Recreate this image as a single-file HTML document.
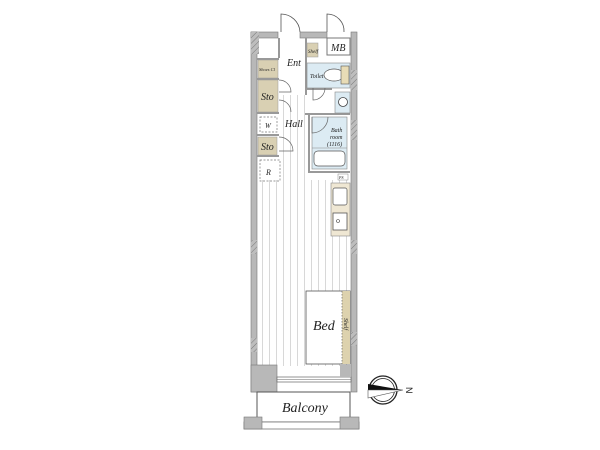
<!DOCTYPE html>
<html><head><meta charset="utf-8"><style>
html,body{margin:0;padding:0;background:#fff;width:600px;height:450px;overflow:hidden}
svg{display:block}
text{font-family:"Liberation Serif",serif;font-style:italic;fill:#222}
</style></head><body>
<svg width="600" height="450" viewBox="0 0 600 450" xmlns="http://www.w3.org/2000/svg">
<defs>
<pattern id="st" width="7" height="10" patternUnits="userSpaceOnUse"><rect width="7" height="10" fill="#fff"/><line x1="3.5" y1="0" x2="3.5" y2="10" stroke="#d8d8d8" stroke-width="1"/></pattern>
<pattern id="ht" width="4" height="4" patternUnits="userSpaceOnUse" patternTransform="rotate(45)"><rect width="4" height="4" fill="#bdbdbd"/><line x1="0" y1="0" x2="0" y2="4" stroke="#666" stroke-width="0.8"/></pattern>
</defs>
<!-- floor -->
<rect x="257" y="38" width="94" height="328" fill="#fff"/>
<rect x="258" y="180" width="92" height="186" fill="url(#st)"/>
<rect x="278" y="95" width="30" height="85" fill="url(#st)"/>
<!-- outer walls -->
<rect x="251" y="32" width="6" height="360" fill="#b8b8b8" stroke="#777" stroke-width="0.6"/>
<rect x="351" y="32" width="6" height="360" fill="#b8b8b8" stroke="#777" stroke-width="0.6"/>
<rect x="251" y="32" width="27" height="6" fill="#b8b8b8" stroke="#777" stroke-width="0.6"/>
<rect x="300" y="32" width="27" height="6" fill="#b8b8b8" stroke="#777" stroke-width="0.6"/>
<rect x="251" y="32" width="8" height="22" fill="url(#ht)"/>
<rect x="351" y="70" width="6" height="20" fill="url(#ht)"/>
<rect x="351" y="120" width="6" height="20" fill="url(#ht)"/>
<rect x="251" y="240" width="6" height="14" fill="url(#ht)"/>
<rect x="351" y="240" width="6" height="14" fill="url(#ht)"/>
<rect x="251" y="338" width="6" height="14" fill="url(#ht)"/>
<rect x="351" y="332" width="6" height="14" fill="url(#ht)"/>
<!-- doors top -->
<path d="M281 32 L281 14 A19 19 0 0 1 300 32" fill="none" stroke="#555" stroke-width="0.8"/>
<path d="M327 32 L327 14 A17 17 0 0 1 344 32" fill="none" stroke="#555" stroke-width="0.8"/>
<rect x="327" y="38" width="23" height="17" fill="#fff" stroke="#777" stroke-width="1"/>
<text x="331" y="51" font-size="10">MB</text>
<!-- inner partitions -->
<rect x="278" y="38" width="2" height="20" fill="#999"/>
<rect x="305" y="38" width="2" height="57" fill="#999"/>
<rect x="307" y="88" width="25" height="2" fill="#999"/>
<rect x="305" y="113" width="45" height="2" fill="#999"/>
<rect x="308" y="113" width="2" height="60" fill="#999"/>
<rect x="308" y="171" width="42" height="2" fill="#999"/>
<rect x="257" y="58" width="22" height="2" fill="#999"/>
<rect x="257" y="78" width="22" height="2" fill="#999"/>
<rect x="257" y="112" width="22" height="2" fill="#999"/>
<rect x="257" y="134" width="22" height="2" fill="#999"/>
<rect x="257" y="155" width="22" height="2" fill="#999"/>
<!-- closets -->
<rect x="307" y="43" width="11" height="14" fill="#d9d0b3" stroke="#999" stroke-width="0.5"/>
<text x="308" y="53" font-size="5">Shelf</text>
<rect x="258" y="60" width="20" height="18" fill="#d9d0b3" stroke="#999" stroke-width="0.5"/>
<text x="259" y="71" font-size="4.5">Shoes Cl</text>
<rect x="258" y="80" width="20" height="32" fill="#d9d0b3" stroke="#999" stroke-width="0.5"/>
<text x="261" y="100" font-size="10">Sto</text>
<path d="M279 80 A12 12 0 0 1 291 92 L279 92 M279 100 A12 12 0 0 1 291 112" fill="none" stroke="#666" stroke-width="0.7"/>
<rect x="260" y="117" width="17" height="15" fill="none" stroke="#777" stroke-width="0.7" stroke-dasharray="2,1.5"/>
<text x="265" y="128" font-size="7">W</text>
<rect x="258" y="137" width="19" height="18" fill="#d9d0b3" stroke="#999" stroke-width="0.5"/>
<text x="261" y="150" font-size="10">Sto</text>
<path d="M279 137 A14 14 0 0 1 293 151 L279 151" fill="none" stroke="#666" stroke-width="0.7"/>
<rect x="260" y="160" width="20" height="21" fill="none" stroke="#777" stroke-width="0.7" stroke-dasharray="2,1.5"/>
<text x="266" y="175" font-size="8">R</text>
<text x="287" y="66" font-size="10">Ent</text>
<text x="285" y="127" font-size="10">Hall</text>
<!-- toilet -->
<rect x="307" y="63" width="43" height="25" fill="#dcebf3" stroke="#888" stroke-width="0.6"/>
<text x="310" y="78" font-size="6">Toilet</text>
<ellipse cx="334" cy="75" rx="10" ry="6" fill="#fff" stroke="#555" stroke-width="0.7"/>
<rect x="341" y="66" width="8" height="18" fill="#e8dcb6" stroke="#555" stroke-width="0.6"/>
<path d="M313 88 L313 100 A12 12 0 0 0 325 88" fill="none" stroke="#666" stroke-width="0.7"/>
<!-- washbasin -->
<rect x="335" y="92" width="15" height="21" fill="#dcebf3" stroke="#888" stroke-width="0.6"/>
<circle cx="343" cy="102" r="4.5" fill="#fff" stroke="#444" stroke-width="0.8"/>
<!-- bath -->
<rect x="312" y="117" width="35" height="52" fill="#dcebf3" stroke="#888" stroke-width="0.6"/>
<path d="M312 117 L312 133 A16 16 0 0 0 328 117" fill="none" stroke="#666" stroke-width="0.7"/>
<text x="331" y="132" font-size="6">Bath</text>
<text x="330" y="139" font-size="6">room</text>
<text x="327" y="146" font-size="6">(1116)</text>
<line x1="312" y1="148" x2="347" y2="148" stroke="#888" stroke-width="0.6"/>
<rect x="314" y="151" width="31" height="15" rx="4" fill="#fff" stroke="#555" stroke-width="0.7"/>
<!-- kitchen -->
<rect x="338" y="174" width="10" height="6" fill="#fff" stroke="#888" stroke-width="0.5"/>
<text x="339" y="179" font-size="4">PS</text>
<rect x="331" y="183" width="19" height="53" fill="#efe7d3" stroke="#888" stroke-width="0.6"/>
<rect x="333" y="188" width="14" height="17" rx="2" fill="#fff" stroke="#555" stroke-width="0.7"/>
<rect x="333" y="213" width="14" height="17" fill="#fff" stroke="#555" stroke-width="0.8"/>
<circle cx="338" cy="221" r="1.5" fill="none" stroke="#444" stroke-width="0.6"/>
<!-- bed -->
<rect x="306" y="291" width="44" height="73" fill="#fff" stroke="#555" stroke-width="0.8"/>
<rect x="342" y="291" width="8" height="73" fill="#ddd2ae"/>
<line x1="342" y1="291" x2="342" y2="364" stroke="#555" stroke-width="0.6" stroke-dasharray="1.5,1.5"/>
<text x="313" y="330" font-size="14">Bed</text>
<text x="344" y="318" font-size="6" transform="rotate(90 344 318)">Shelf</text>
<!-- bottom -->
<rect x="251" y="365" width="26" height="27" fill="#b8b8b8" stroke="#777" stroke-width="0.6"/>
<rect x="277" y="377" width="74" height="5" fill="#fff" stroke="#666" stroke-width="0.7"/>
<line x1="277" y1="379.5" x2="351" y2="379.5" stroke="#666" stroke-width="0.6"/>
<rect x="340" y="365" width="11" height="12" fill="#b8b8b8"/>
<rect x="257" y="392" width="93" height="30" fill="#fff" stroke="#555" stroke-width="1"/>
<rect x="244" y="422" width="115" height="7" fill="#fff" stroke="#777" stroke-width="0.8"/>
<rect x="244" y="417" width="18" height="12" fill="#b8b8b8" stroke="#777" stroke-width="0.6"/>
<rect x="340" y="417" width="19" height="12" fill="#b8b8b8" stroke="#777" stroke-width="0.6"/>
<text x="282" y="412" font-size="14">Balcony</text>
<!-- compass -->
<circle cx="383" cy="390" r="14" fill="none" stroke="#222" stroke-width="1.3"/>
<circle cx="383" cy="390" r="11.5" fill="none" stroke="#222" stroke-width="0.8"/>
<path d="M368 384 L403 390 L368 390 Z" fill="#111"/>
<path d="M368 390 L403 390 L368 398 Z" fill="#fff" stroke="#555" stroke-width="0.6"/>
<text x="407" y="394" font-size="9" style="font-family:'Liberation Sans',sans-serif;font-style:normal" transform="rotate(90 410 390)">N</text>
</svg>
</body></html>
